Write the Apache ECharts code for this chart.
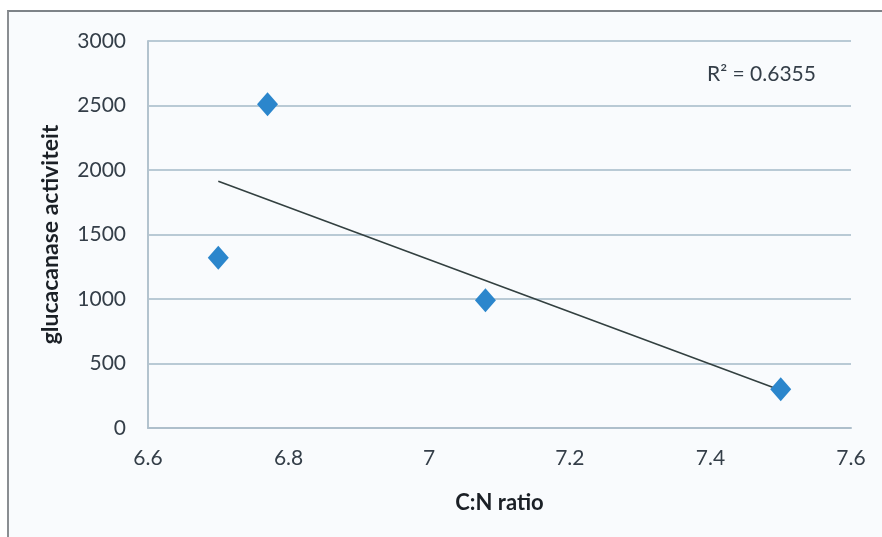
<!DOCTYPE html>
<html>
<head>
<meta charset="utf-8">
<script src="https://cdn.jsdelivr.net/npm/echarts@6/dist/echarts.min.js"></script>
<style>
  html, body { margin: 0; padding: 0; background: #ffffff; }
  #frame {
    position: absolute; left: 7px; top: 10px; width: 875px; height: 527px;
    border-top: 2px solid #7e8388; border-left: 2px solid #8a8e92;
    background: #f9fbfd; box-sizing: border-box;
  }
  #chart { position: absolute; left: 0; top: 0; width: 882px; height: 537px; }
</style>
</head>
<body>
<div id="frame"></div>
<div id="chart"></div>
<script>
// C:N ratio vs glucanase activity
const cnRatio = [6.70, 6.77, 7.08, 7.50]
const activity = [1320, 2510, 990, 300]
const xTicks = [6.6, 6.8, 7, 7.2, 7.4, 7.6]
const yTicks = [0, 500, 1000, 1500, 2000, 2500, 3000]
const rSquaredLabel = "R² = 0.6355"

// linear least squares for the trendline
function fitLine(xs, ys) {
  const n = xs.length
  const mx = xs.reduce((a, b) => a + b, 0) / n
  const my = ys.reduce((a, b) => a + b, 0) / n
  let sxy = 0, sxx = 0
  xs.forEach((x, i) => {
    sxy += (x - mx) * (ys[i] - my)
    sxx += (x - mx) * (x - mx)
  })
  const slope = sxy / sxx
  return { slope: slope, icpt: my - slope * mx }
}

const fit = fitLine(cnRatio, activity)
const xMin = Math.min(...cnRatio)
const xMax = Math.max(...cnRatio)
const trend = [
  [xMin, fit.icpt + fit.slope * xMin],
  [xMax, fit.icpt + fit.slope * xMax],
]

const labelFont = "Lato, 'Open Sans', sans-serif"
const myChart = echarts.init(document.getElementById("chart"))

myChart.setOption({
  animation: false,
  grid: {
    left: 148,
    right: 31,
    top: 41,
    bottom: 109,
  },
  xAxis: {
    type: "value",
    min: xTicks[0],
    max: xTicks[xTicks.length - 1],
    interval: 0.2,
    name: "C:N ratio",
    nameLocation: "middle",
    nameGap: 64,
    nameTextStyle: { fontFamily: labelFont, fontSize: 22, fontWeight: "bold", color: "#1b2026" },
    axisLine: { show: true, lineStyle: { color: "#aebfcb", width: 2 } },
    axisTick: { show: false },
    splitLine: { show: false },
    axisLabel: {
      fontFamily: labelFont,
      fontSize: 21,
      color: "#343e48",
      margin: 20,
      formatter: (v) => String(Math.round(v * 10) / 10),
    },
  },
  yAxis: {
    type: "value",
    min: yTicks[0],
    max: yTicks[yTicks.length - 1],
    interval: 500,
    name: "glucacanase activiteit",
    nameLocation: "middle",
    nameGap: 86,
    nameRotate: 90,
    nameTextStyle: { fontFamily: labelFont, fontSize: 23, fontWeight: "bold", color: "#1b2026" },
    axisLine: { show: true, lineStyle: { color: "#b3c3ce", width: 2 } },
    axisTick: { show: false },
    splitLine: { show: true, lineStyle: { color: "#b9cad5", width: 2 } },
    axisLabel: {
      fontFamily: labelFont,
      fontSize: 21,
      color: "#343e48",
      margin: 22,
      formatter: (v) => String(v),
    },
  },
  series: [
    {
      name: "trend",
      type: "line",
      data: trend,
      symbol: "none",
      lineStyle: { color: "#334040", width: 1.6 },
      z: 3,
    },
    {
      name: "activity",
      type: "scatter",
      data: cnRatio.map((x, i) => [x, activity[i]]),
      symbol: "diamond",
      symbolSize: [21, 24],
      itemStyle: { color: "#2b86cc", opacity: 1 },
      z: 4,
    },
  ],
  graphic: [
    {
      type: "text",
      left: 707,
      top: 64,
      style: {
        text: rSquaredLabel,
        font: "21px " + labelFont,
        fill: "#343e48",
      },
    },
  ],
})

window.addEventListener("resize", () => {
  myChart.resize()
})
</script>
</body>
</html>
